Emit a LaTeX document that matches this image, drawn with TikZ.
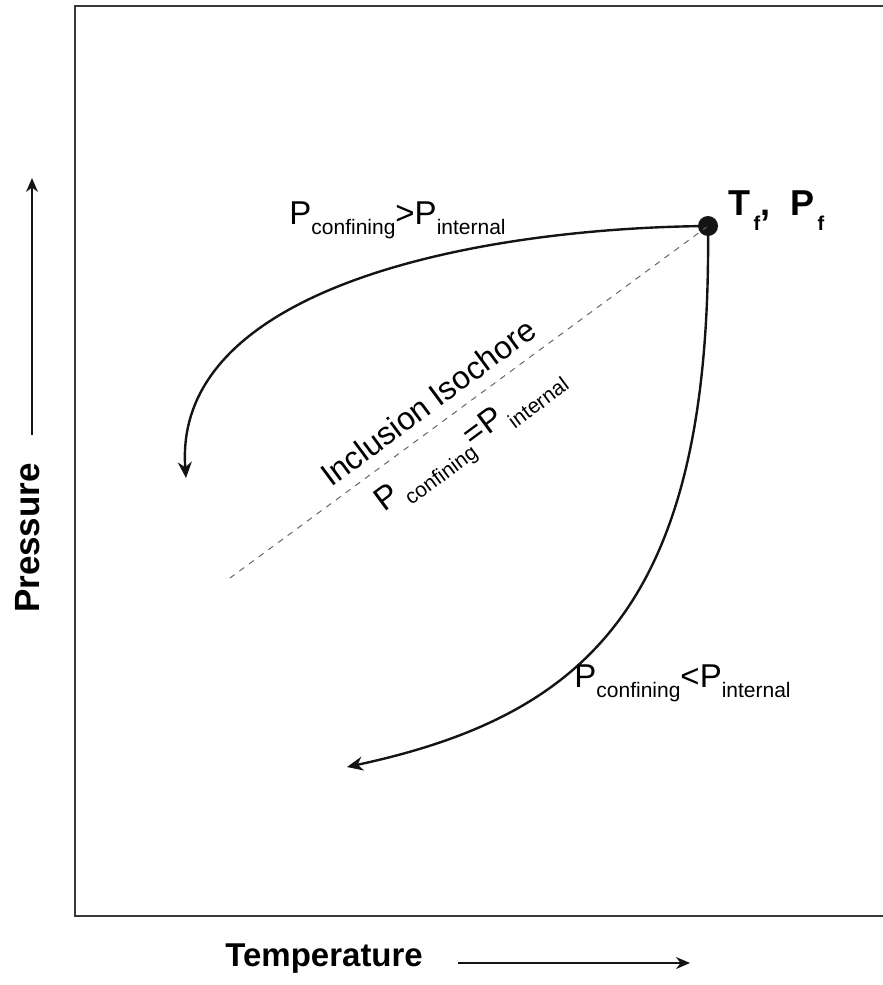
\documentclass[tikz,border=0pt]{standalone}
\usepackage{fontspec}
\setmainfont{Liberation Sans}
\usepackage{xcolor}
\usetikzlibrary{arrows.meta,positioning,calc}
\definecolor{plotInk}  {gray}{0.08}
\definecolor{plotFrame}{gray}{0.22}
\definecolor{plotDash} {gray}{0.40}
\newcommand{\lowsub}[1]{\raisebox{-0.6ex}{\fontsize{10.5}{12}\selectfont #1}}
\newcommand{\boldsub}[1]{\raisebox{-0.8ex}{\fontsize{10}{11}\selectfont\bfseries\,#1}}

\begin{document}
\begin{tikzpicture}[x=0.5pt, y=-0.5pt,
      frame/.style={draw=plotFrame, line width=1.2pt},
      path/.style={draw=plotInk, line width=1.2pt,
                   -{Stealth[length=8pt, width=7pt]}},
      isochore/.style={draw=plotDash, line width=0.5pt,
                       dash pattern=on 3pt off 3pt},
      axis/.style={draw=plotInk, line width=0.8pt,
                   -{Stealth[length=7pt, width=6pt]}},
      label/.style={font=\fontsize{16.5}{19}\selectfont, inner sep=0pt},
      axislabel/.style={font=\fontsize{16.5}{20}\selectfont\bfseries,
                        inner sep=0pt},
      final/.style={circle, fill=plotInk, minimum size=10pt, inner sep=0pt}]

    \useasboundingbox (0,0) rectangle (883,985);

    \draw[frame] (886,6) -- (75,6) -- (75,916) -- (886,916);

    \node[final] (tf) at (708,226) {};
    \coordinate (upEnd)  at (186,478);
    \coordinate (lowEnd) at (347,767);
    \coordinate (isoEnd) at (230,578);

    \draw[isochore] (tf.center) -- (isoEnd);
    \draw[path] (tf.center) .. controls (480,228) and (172,286) .. (upEnd);
    \draw[path] (tf.center) .. controls (712,600) and (590,715) .. (lowEnd);

    \node[label, anchor=base west] (gt) at (289,224)
      {P\lowsub{confining}>P\lowsub{internal}};
    \node[label, anchor=base west] (lt) at (574,687)
      {P\lowsub{confining}<P\lowsub{internal}};
    \node[label, font=\fontsize{16}{19}\selectfont, rotate=36.5]
      (iso) at (428,402) {Inclusion Isochore};
    \node[label, rotate=36.5] (eq) at (472,443)
      {P\lowsub{\,confining}=P\lowsub{\,internal}};
    \node[label, font=\fontsize{18}{21}\selectfont\bfseries,
          anchor=base west] (tfl) at (728,215)
      {T\boldsub{f},\ \ P\boldsub{f}};

    % axes
    \node[axislabel, anchor=base west] (temp) at (225,966) {Temperature};
    \coordinate (tStart) at (458,963);
    \coordinate (tEnd)   at (690,963);
    \draw[axis] (tStart) -- (tEnd);

    \node[axislabel, font=\fontsize{17.5}{20}\selectfont\bfseries,
          rotate=90] (pres) at (28,538) {Pressure};
    \coordinate (pStart) at (32,435);
    \coordinate (pEnd)   at (32,178);
    \draw[axis] (pStart) -- (pEnd);
  \end{tikzpicture}
\end{document}
